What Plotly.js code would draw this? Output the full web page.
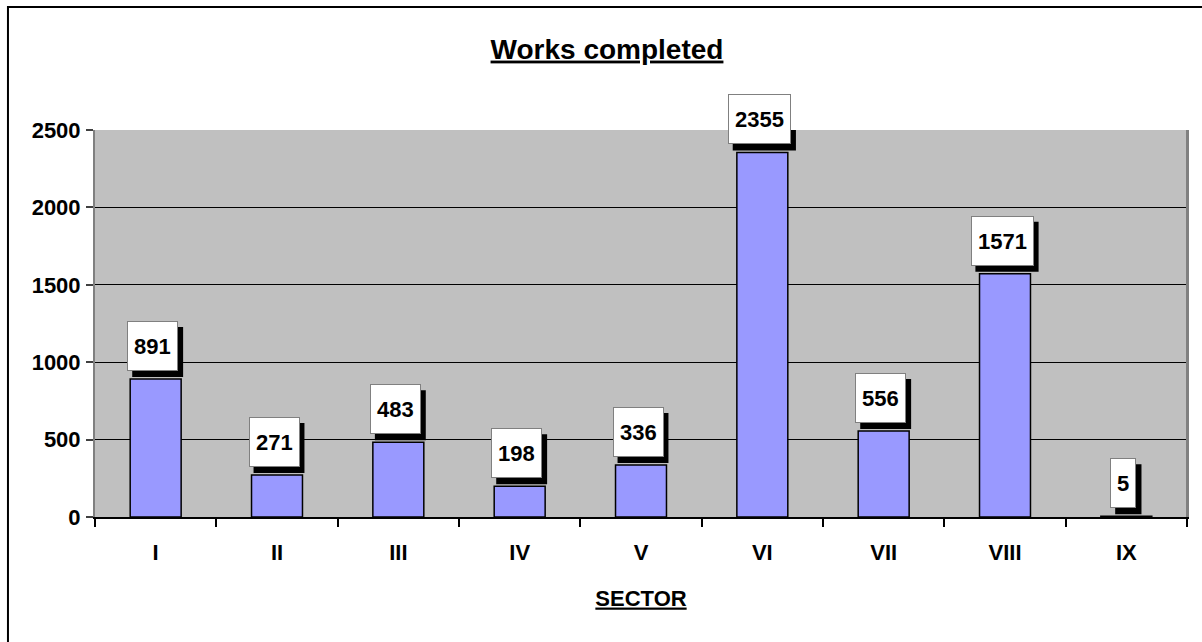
<!DOCTYPE html>
<html>
<head>
<meta charset="utf-8">
<script src="https://cdn.plot.ly/plotly-3.0.1.min.js"></script>
<style>html,body{margin:0;padding:0;background:#fff;}#chart{width:1202px;height:642px;}</style>
</head>
<body>
<div id="chart"></div>
<script>
const sectors = ['I','II','III','IV','V','VI','VII','VIII','IX'];
const works = [891, 271, 483, 198, 336, 2355, 556, 1571, 5];
const yTicks = [0, 500, 1000, 1500, 2000, 2500];

const FONT = 'Liberation Sans, Arial, sans-serif';

const trace = {
  type: 'bar',
  x: sectors,
  y: works,
  width: 0.42,
  marker: {color: '#9999FF', line: {color: '#000000', width: 1.5}},
  hoverinfo: 'x+y'
};

// label box geometry (pixels)
const BOX_H = 38, PAD = 5, BW = 1, GAP = 8, BOX_DX = -3, SH_DX = 5, SH_DY = 6;

const annotations = [];
const shapes = [];
sectors.forEach((s, i) => {
  const txt = String(works[i]);
  const w = txt.length * 12.3 + 2;
  const totalW = w + 2 * PAD + 2 * BW;
  const totalH = BOX_H + 2 * PAD + 2 * BW;
  // shadow (drawn first, below box)
  shapes.push({
    type: 'rect', xref: 'x', yref: 'y',
    xsizemode: 'pixel', ysizemode: 'pixel',
    xanchor: i, yanchor: works[i],
    x0: BOX_DX + SH_DX - totalW / 2, x1: BOX_DX + SH_DX + totalW / 2,
    y0: GAP - SH_DY, y1: GAP - SH_DY + totalH,
    fillcolor: '#000000', line: {width: 0}, layer: 'above'
  });
  annotations.push({
    x: s, y: works[i], xref: 'x', yref: 'y',
    text: txt, showarrow: false,
    yanchor: 'bottom', xanchor: 'center',
    width: w, height: BOX_H, borderpad: PAD, borderwidth: BW,
    font: {family: FONT, size: 22, color: '#000000', weight: 700},
    bgcolor: '#FFFFFF', bordercolor: '#808080',
    xshift: BOX_DX, yshift: GAP
  });
});

shapes.push(
  {type: 'rect', xref: 'paper', yref: 'paper',
   x0: -0.0797, x1: 1.03, y0: -0.36, y1: 1.318,
   line: {color: '#000000', width: 2}, fillcolor: 'rgba(0,0,0,0)', layer: 'below'},
  {type: 'line', xref: 'paper', yref: 'paper',
   x0: 1, x1: 1, y0: 0, y1: 1,
   line: {color: '#808080', width: 2}}
);

const layout = {
  width: 1202, height: 642,
  margin: {l: 95, r: 15, t: 130, b: 125},
  paper_bgcolor: '#FFFFFF',
  plot_bgcolor: '#C0C0C0',
  showlegend: false,
  font: {family: FONT, color: '#000000'},
  title: {
    text: 'Works completed',
    font: {family: FONT, size: 28, weight: 700, color: '#000000', lineposition: 'under'},
    x: 0.505, xref: 'container', xanchor: 'center',
    y: 0.924, yref: 'container', yanchor: 'middle'
  },
  xaxis: {
    type: 'category',
    tickson: 'boundaries',
    ticks: 'outside', ticklen: 8, tickcolor: '#000000', tickwidth: 1.5,
    ticklabelstandoff: 15,
    tickfont: {family: FONT, size: 22, weight: 700, color: '#000000'},
    showline: true, linecolor: '#000000', linewidth: 1.5,
    showgrid: false, zeroline: false,
    title: {
      text: 'SECTOR',
      font: {family: FONT, size: 22, weight: 700, color: '#000000', lineposition: 'under'},
      standoff: 26
    }
  },
  yaxis: {
    range: [0, 2500],
    tickvals: yTicks,
    ticktext: yTicks.map(String),
    ticks: 'outside', ticklen: 7, tickcolor: '#404040', tickwidth: 1.5,
    ticklabelstandoff: 1,
    tickfont: {family: FONT, size: 22, weight: 700, color: '#000000'},
    showgrid: true, gridcolor: '#000000', gridwidth: 1,
    showline: true, linecolor: '#808080', linewidth: 2, mirror: true,
    zeroline: false
  },
  annotations: annotations,
  shapes: shapes
};

Plotly.newPlot('chart', [trace], layout, {displayModeBar: false, responsive: false});
</script>
</body>
</html>
